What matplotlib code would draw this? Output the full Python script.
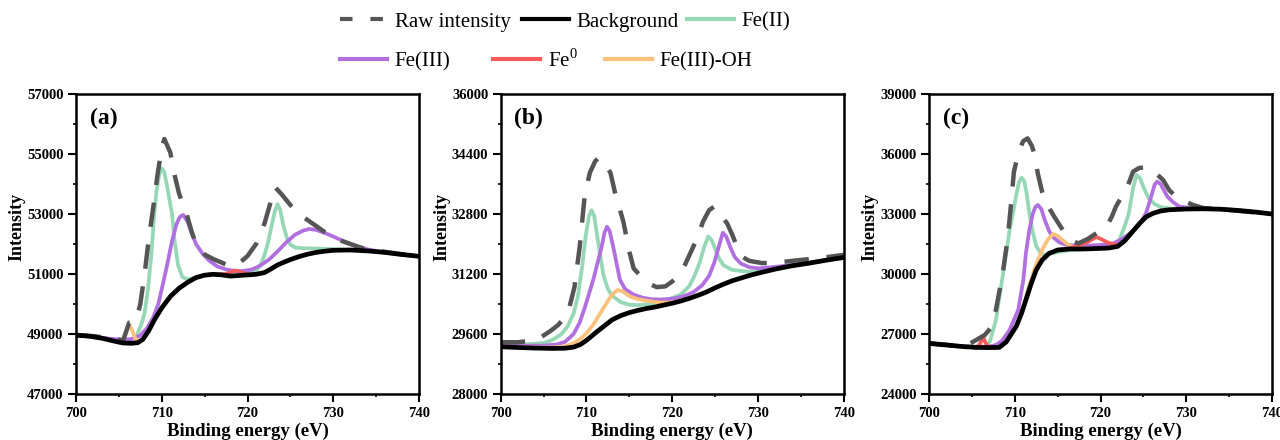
import numpy as np
import matplotlib
matplotlib.use("Agg")
import matplotlib.pyplot as plt
from matplotlib.lines import Line2D

plt.rcParams['font.family'] = ['Liberation Serif', 'DejaVu Serif']
plt.rcParams['mathtext.fontset'] = 'custom'
plt.rcParams['mathtext.rm'] = 'Liberation Serif'

# ---------------- panel (a) ----------------
A_BG_X = [700, 701.5, 703, 704.5, 705.5, 706.5, 707.2, 707.8, 708.5, 709.2, 710, 711, 712, 713, 714, 715,
          716, 717, 718, 719, 720, 721, 722, 722.8, 723.5, 724.3, 725, 726, 727, 728, 729, 730, 732, 734,
          736, 738, 740]
A_BG_Y = [48960, 48930, 48860, 48760, 48700, 48690, 48710, 48820, 49120, 49500, 49870, 50250, 50520, 50720,
          50880, 50960, 50990, 50970, 50930, 50950, 50970, 50990, 51050, 51180, 51300, 51400, 51480, 51580,
          51660, 51720, 51760, 51790, 51800, 51770, 51720, 51650, 51590]

A_RAW_X = [700, 702, 704, 705.5, 706.2, 707, 707.5, 708, 708.5, 709, 709.5, 710, 710.3, 711, 711.5, 712,
           712.5, 713, 713.5, 714, 715, 716, 717, 718, 719, 720, 721, 722, 722.7, 723.2, 724, 725, 726, 727,
           728, 729, 730, 731, 732, 733, 734, 736, 738, 740]
A_RAW_Y = [48960, 48930, 48860, 48790, 49380, 49420, 50000, 51000, 52200, 53200, 54300, 55200, 55500, 55050,
           54300, 53700, 53300, 52900, 52400, 52000, 51650, 51500, 51380, 51250, 51350, 51600, 52000, 52700,
           53400, 53900, 53650, 53300, 53000, 52800, 52600, 52400, 52230, 52100, 52000, 51900, 51820, 51740,
           51660, 51600]

A_FE2_X = [700, 703, 705, 706, 707, 707.6, 708, 708.4, 708.8, 709.1, 709.4, 709.7, 710, 710.3, 710.7, 711.2,
           711.5, 711.9, 712.4, 713, 714, 715, 716, 717, 718, 719, 720, 721, 721.6, 722, 722.4, 722.8, 723.2,
           723.5, 723.8, 724.2, 724.6, 725, 725.6, 726.5, 728, 730, 732, 734, 736, 738, 740]
A_FE2_Y = [48960, 48860, 48760, 48750, 48900, 49300, 49700, 50500, 51700, 52900, 53800, 54300, 54520, 54400,
           53800, 53000, 52100, 51300, 50900, 50820, 50890, 50970, 51000, 50980, 50950, 50970, 51000, 51100,
           51350, 51650, 52050, 52600, 53100, 53330, 53150, 52600, 52200, 51980, 51880, 51860, 51850, 51830,
           51800, 51770, 51720, 51650, 51590]

A_FE3_X = [700, 702, 704, 705.5, 706.5, 707.5, 708.3, 709, 709.6, 710.2, 710.7, 711.2, 711.7, 712.1, 712.5,
           713, 713.5, 714, 714.7, 715.5, 716.5, 717.5, 718.5, 719.5, 720.5, 721.5, 722.5, 723.5, 724.5,
           725.5, 726.5, 727.2, 728, 729, 730, 731, 732, 733, 734, 736, 738, 740]
A_FE3_Y = [48990, 48920, 48840, 48810, 48830, 48950, 49200, 49550, 50000, 50750, 51400, 52100, 52650, 52900,
           52970, 52750, 52350, 52000, 51700, 51450, 51250, 51150, 51100, 51100, 51150, 51280, 51480, 51750,
           52050, 52300, 52450, 52500, 52470, 52370, 52250, 52120, 52000, 51900, 51820, 51720, 51650, 51590]

A_FE0_X = [716.5, 717.5, 718, 718.5, 719, 719.5, 720.2]
A_FE0_Y = [50980, 51000, 51060, 51120, 51090, 51030, 50970]

A_FEOH_X = [705, 705.6, 706, 706.2, 706.5, 706.9, 707.3]
A_FEOH_Y = [48720, 48850, 49150, 49320, 49150, 48850, 48720]

# ---------------- panel (b) ----------------
B_BG_X = [700, 702, 704, 706, 707.5, 708.5, 709.3, 710, 711, 712, 713, 714, 715, 716, 717, 718, 719, 720,
          721, 722, 723, 724, 725, 726, 727, 728, 729, 730, 732, 734, 736, 738, 740]
B_BG_Y = [29260, 29240, 29225, 29215, 29220, 29250, 29320, 29430, 29620, 29800, 29980, 30090, 30170, 30230,
          30280, 30320, 30370, 30420, 30480, 30550, 30630, 30720, 30830, 30930, 31020, 31090, 31160, 31220,
          31330, 31420, 31490, 31570, 31640]

B_RAW_X = [700, 702, 703.5, 704.8, 705.8, 706.7, 707.3, 708, 708.6, 709.2, 709.8, 710.4, 711, 711.4, 712,
           712.8, 713.3, 713.8, 714.3, 715, 715.5, 716.3, 717.2, 718.2, 719.2, 720, 720.7, 721.5, 722.2,
           722.9, 723.6, 724.3, 724.9, 725.6, 726.4, 727, 727.6, 728.2, 729, 730.5, 732, 734, 736, 738, 740]
B_RAW_Y = [29380, 29380, 29420, 29530, 29680, 29840, 30000, 30300, 30850, 31900, 33300, 33900, 34200, 34300,
           34200, 33900, 33400, 33000, 32600, 31800, 31350, 31150, 30950, 30850, 30870, 31000, 31150, 31450,
           31800, 32150, 32600, 32900, 33000, 32800, 32550, 32250, 31900, 31650, 31550, 31490, 31500, 31550,
           31600, 31650, 31710]

B_FE2_X = [700, 703, 705, 706, 707, 707.8, 708.5, 709, 709.5, 709.9, 710.3, 710.6, 710.9, 711.2, 711.6, 712,
           712.5, 713, 714, 715, 716, 717, 718, 719, 720, 721, 722, 722.6, 723.2, 723.7, 724.2, 724.6, 725,
           725.5, 726, 727, 728, 729, 730, 732, 734, 736, 738, 740]
B_FE2_Y = [29330, 29320, 29360, 29440, 29580, 29800, 30150, 30600, 31400, 32200, 32750, 32900, 32750, 32300,
           31700, 31150, 30800, 30620, 30450, 30380, 30370, 30390, 30430, 30480, 30560, 30650, 30880, 31150,
           31500, 31900, 32200, 32100, 31880, 31600, 31430, 31310, 31280, 31260, 31260, 31340, 31420, 31490,
           31570, 31640]

B_FE3_X = [700, 703, 705, 706.5, 707.5, 708.5, 709.2, 709.8, 710.4, 710.8, 711.3, 711.8, 712.1, 712.4, 712.7,
           713.1, 713.5, 713.9, 714.5, 715.5, 716.5, 717.5, 718.5, 719.5, 720.5, 721.5, 722.5, 723.5, 724.3,
           724.9, 725.4, 725.9, 726.3, 726.8, 727.3, 728, 729, 730, 732, 734, 736, 738, 740]
B_FE3_Y = [29300, 29290, 29290, 29320, 29390, 29600, 29900, 30300, 30750, 31050, 31500, 31950, 32300, 32460,
           32350, 31950, 31500, 31050, 30800, 30650, 30570, 30530, 30520, 30530, 30560, 30620, 30720, 30900,
           31150, 31500, 31900, 32300, 32200, 31900, 31650, 31480, 31380, 31350, 31390, 31440, 31500, 31570,
           31640]

B_FEOH_X = [700, 704, 706, 707.5, 708.5, 709.3, 710, 710.8, 711.6, 712.4, 713, 713.6, 714.2, 715, 716, 717.2,
            718.5, 720, 721, 722]
B_FEOH_Y = [29270, 29240, 29240, 29270, 29350, 29470, 29620, 29850, 30150, 30450, 30650, 30770, 30740, 30610,
            30530, 30480, 30440, 30440, 30490, 30560]

# ---------------- panel (c) ----------------
C_BG_X = [700, 702, 704, 705.5, 707, 708.2, 709, 709.6, 710.2, 710.8, 711.3, 711.9, 712.5, 713.2, 714, 715,
          716.4, 718, 720, 721, 722, 722.8, 723.6, 724.5, 725.3, 726.1, 727, 728, 730, 732, 734, 736, 738, 740]
C_BG_Y = [26530, 26450, 26370, 26330, 26320, 26330, 26600, 27000, 27400, 28050, 28700, 29500, 30200, 30700,
          31030, 31200, 31250, 31250, 31280, 31300, 31380, 31650, 32050, 32500, 32850, 33030, 33150, 33210,
          33250, 33260, 33240, 33180, 33100, 33000]

C_RAW_X = [700, 702, 703.5, 704.7, 705.9, 706.5, 707.2, 707.8, 708.6, 709.2, 709.5, 709.9, 710.5, 711, 711.5,
           712, 712.3, 712.7, 713.2, 713.7, 714.6, 715.6, 716.5, 717.4, 718.5, 719.5, 720.7, 721.3, 721.8,
           722.5, 723, 723.8, 724.5, 725.5, 726.3, 727.3, 728, 729, 730, 730.8, 732, 735, 737, 740]
C_RAW_Y = [26530, 26460, 26400, 26500, 26800, 26950, 27300, 28200, 30030, 31870, 33200, 35100, 36200, 36650,
           36780, 36400, 36000, 35000, 34100, 33530, 32870, 32200, 31700, 31530, 31750, 32030, 32370, 32850,
           33370, 33900, 34200, 35120, 35300, 35350, 35100, 34700, 34200, 33780, 33600, 33450, 33300, 33200,
           33120, 33000]

C_FE2_X = [700, 703, 705, 706.5, 707.1, 707.8, 708.4, 709, 709.4, 709.8, 710.2, 710.5, 710.8, 711.1, 711.4,
           711.7, 712.1, 712.5, 713, 713.5, 714.5, 715.5, 716.5, 718, 719.5, 720.5, 721.5, 722.2, 722.8, 723.3,
           723.8, 724.2, 724.6, 725.1, 725.6, 726.3, 727, 728, 730, 732, 734, 736, 738, 740]
C_FE2_Y = [26540, 26400, 26340, 26340, 26620, 27700, 29370, 31030, 32200, 33050, 34000, 34600, 34820, 34650,
           34000, 33050, 32100, 31400, 31050, 30950, 31050, 31130, 31200, 31250, 31270, 31330, 31450, 31700,
           32370, 33030, 34300, 34950, 34800, 34250, 33800, 33500, 33350, 33280, 33260, 33260, 33240, 33180,
           33100, 33000]

C_FE3_X = [700, 703, 705, 707, 707.8, 708.5, 709.4, 710.4, 711, 711.3, 711.7, 712.1, 712.4, 712.7, 713.1,
           713.5, 714, 714.4, 715.2, 716, 717, 718.5, 720, 721.5, 722.5, 723.5, 724.5, 725.3, 725.9, 726.3,
           726.6, 727, 727.8, 728.5, 729.2, 730.5, 732, 734, 736, 738, 740]
C_FE3_Y = [26550, 26420, 26360, 26370, 26450, 26650, 27200, 28200, 29700, 31030, 32200, 33000, 33350, 33450,
           33250, 32700, 32150, 31870, 31580, 31460, 31420, 31420, 31450, 31530, 31750, 32050, 32450, 33030,
           33860, 34450, 34620, 34500, 33870, 33580, 33370, 33290, 33270, 33240, 33180, 33100, 33000]

C_FE0_X = [704.8, 705.6, 706, 706.3, 706.6, 707, 707.6, np.nan,
           715.5, 716.5, 717.5, 718.5, 719.5, 720.2, 720.8, 721.5, 722.2, 722.8]
C_FE0_Y = [26360, 26330, 26550, 26870, 26550, 26330, 26330, np.nan,
           31230, 31300, 31430, 31600, 31850, 31720, 31580, 31480, 31450, 31650]

C_FEOH_X = [711.2, 711.6, 712.2, 712.7, 713.3, 713.9, 714.5, 715.1, 715.7, 716.3, 717, 717.8]
C_FEOH_Y = [28650, 29300, 30100, 30700, 31300, 31750, 32000, 31880, 31650, 31450, 31320, 31270]

PANEL_LABELS = ['(a)', '(b)', '(c)']
Y_TICKS = [[47000, 49000, 51000, 53000, 55000, 57000],
           [28000, 29600, 31200, 32800, 34400, 36000],
           [24000, 27000, 30000, 33000, 36000, 39000]]
X_TICKS = [700, 710, 720, 730, 740]

C_RAW = '#555555'
C_BGC = 'black'
C_FE2 = '#96d8b6'
C_FE3 = '#b16fe0'
C_FE0 = '#f45b5b'
C_FEOH = '#fcc27c'

panels = [
    dict(bg=(A_BG_X, A_BG_Y), raw=(A_RAW_X, A_RAW_Y), fe2=(A_FE2_X, A_FE2_Y), fe3=(A_FE3_X, A_FE3_Y),
         fe0=(A_FE0_X, A_FE0_Y), feoh=(A_FEOH_X, A_FEOH_Y)),
    dict(bg=(B_BG_X, B_BG_Y), raw=(B_RAW_X, B_RAW_Y), fe2=(B_FE2_X, B_FE2_Y), fe3=(B_FE3_X, B_FE3_Y),
         fe0=None, feoh=(B_FEOH_X, B_FEOH_Y)),
    dict(bg=(C_BG_X, C_BG_Y), raw=(C_RAW_X, C_RAW_Y), fe2=(C_FE2_X, C_FE2_Y), fe3=(C_FE3_X, C_FE3_Y),
         fe0=(C_FE0_X, C_FE0_Y), feoh=(C_FEOH_X, C_FEOH_Y)),
]

W, H = 1280, 440
fig = plt.figure(figsize=(W / 100, H / 100), dpi=100)

lefts = [76, 500.7, 929]
for i, p in enumerate(panels):
    ax = fig.add_axes([lefts[i] / W, 1 - 394 / H, 343 / W, 300 / H])
    yt = Y_TICKS[i]

    ax.plot(*p['fe2'], color=C_FE2, lw=2.7, zorder=2)
    ax.plot(*p['fe3'], color=C_FE3, lw=2.7, zorder=2.1)
    if p['feoh'] is not None:
        ax.plot(*p['feoh'], color=C_FEOH, lw=2.7, zorder=2.2)
    if p['fe0'] is not None:
        ax.plot(*p['fe0'], color=C_FE0, lw=2.7, zorder=2.3)
    ax.plot(*p['raw'], color=C_RAW, lw=3.2, ls=(0, (5.5, 4)), zorder=2.5)
    ax.plot(*p['bg'], color=C_BGC, lw=3.4, zorder=3)

    ax.set_xlim(X_TICKS[0], X_TICKS[-1])
    ax.set_ylim(yt[0], yt[-1])
    ax.set_xticks(X_TICKS)
    ax.set_xticks([(a + b) / 2 for a, b in zip(X_TICKS[:-1], X_TICKS[1:])], minor=True)
    ax.set_yticks(yt)
    ax.set_yticks([(a + b) / 2 for a, b in zip(yt[:-1], yt[1:])], minor=True)
    ax.tick_params(which='both', direction='out', top=False, right=False, labelsize=10.5)
    ax.tick_params(which='major', length=5.5, width=1.5, pad=3.5)
    ax.tick_params(which='minor', length=2.5, width=1.2)
    for lab in ax.get_xticklabels() + ax.get_yticklabels():
        lab.set_fontweight('bold')
    for s in ax.spines.values():
        s.set_linewidth(1.8)

    ax.set_xlabel('Binding energy (eV)', fontsize=13.5, fontweight='bold')
    ax.xaxis.set_label_coords(0.5, -0.095)
    ax.set_ylabel('Intensity', fontsize=13, fontweight='bold')
    ax.yaxis.set_label_coords(-0.148, 0.557)
    ax.text(0.04, 0.92, PANEL_LABELS[i], transform=ax.transAxes, fontsize=17, fontweight='bold',
            ha='left', va='center')

# legend, placed entry by entry as in the original
entries = [
    (Line2D([], [], color=C_RAW, lw=3, ls=(0, (3, 4.3))), 'Raw intensity', 340, 22),
    (Line2D([], [], color=C_BGC, lw=3), 'Background', 522, 22),
    (Line2D([], [], color=C_FE2, lw=3), 'Fe(II)', 687, 22),
    (Line2D([], [], color=C_FE3, lw=3), 'Fe(III)', 340, 62),
    (Line2D([], [], color=C_FE0, lw=3), r'Fe$^\mathrm{0}$', 493, 60),
    (Line2D([], [], color=C_FEOH, lw=3), 'Fe(III)-OH', 605, 62),
]
for handle, label, x, y in entries:
    fig.legend([handle], [label], loc='center left', bbox_to_anchor=(x / W, 1 - y / H),
               frameon=False, fontsize=15, handlelength=2.25, handletextpad=0.38,
               borderpad=0, borderaxespad=0)

fig.savefig('out.png', dpi=100)
